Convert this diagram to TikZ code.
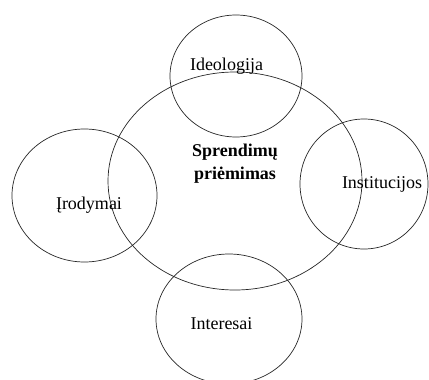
\documentclass[tikz,border=0pt]{standalone}
\usepackage{fontspec}
\setmainfont{Liberation Serif}
\begin{document}
\begin{tikzpicture}[x=1pt,y=-1pt,
  ring/.style={draw=black!85,line width=0.7pt},
  label/.style={font=\fontsize{18}{22}\selectfont,anchor=base,inner sep=0pt},
  core/.style={font=\fontsize{18}{23}\selectfont\bfseries,align=center,anchor=base,inner sep=0pt}]
  \useasboundingbox (0,0) rectangle (429,380);
  \clip (0,0) rectangle (429,380);
  % central ellipse and the four surrounding circles
  \draw[ring] (235,181) ellipse [x radius=127pt, y radius=109pt];
  \draw[ring] (236,76) ellipse [x radius=66pt, y radius=61pt];
  \draw[ring] (84.5,195.5) ellipse [x radius=72.5pt, y radius=66.5pt];
  \draw[ring] (364,184) ellipse [x radius=64pt, y radius=65pt];
  \draw[ring] (229,319) ellipse [x radius=73pt, y radius=65pt];
  % texts
  \node[core] (center) at (235,179) {Sprendimų\\priėmimas};
  \node[label] (ideo) at (226.5,70) {Ideologija};
  \node[label] (irod) at (89,209) {Įrodymai};
  \node[label] (inst) at (382,188) {Institucijos};
  \node[label] (inter) at (221.5,329) {Interesai};
\end{tikzpicture}
\end{document}
